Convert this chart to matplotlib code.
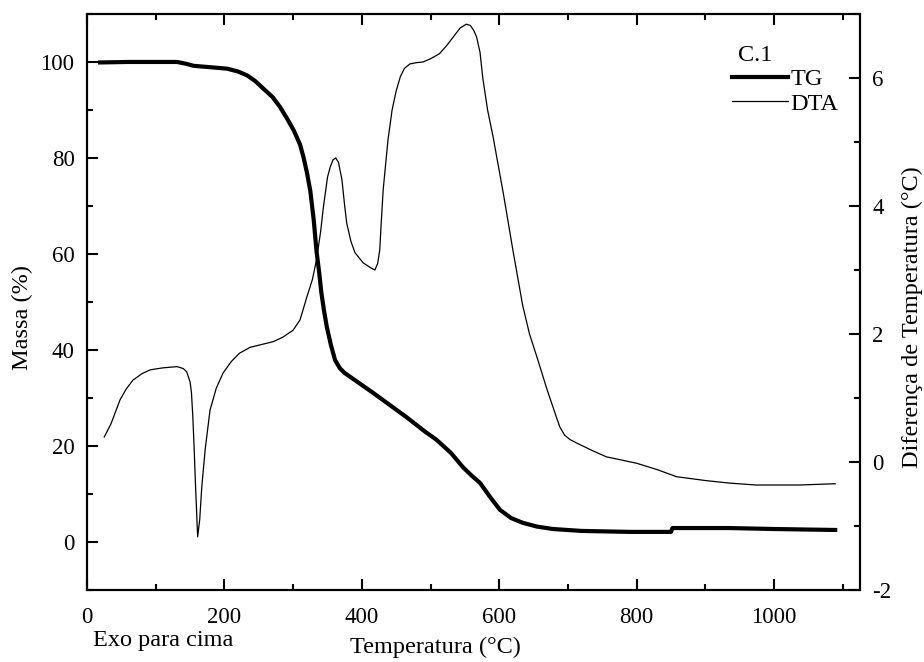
import matplotlib
matplotlib.use("Agg")
import matplotlib.pyplot as plt
from matplotlib.ticker import MultipleLocator

plt.rcParams['font.family'] = ['Liberation Serif', 'DejaVu Serif']
plt.rcParams['axes.unicode_minus'] = False

# TG curve: temperature (°C) vs mass (%)
tg_temp = [19, 60, 100, 131, 145, 155, 180, 204, 220, 233, 245, 257, 270, 281,
           292, 301, 310, 315, 320, 325, 330, 334, 338, 341, 345, 349, 355, 361,
           368, 375, 395, 417, 440, 465, 490, 509, 530, 547, 560, 572, 587, 601,
           617, 634, 655, 678, 720, 790, 850, 852, 935, 1000, 1089]
tg_mass = [99.9, 100, 100, 100, 99.6, 99.2, 98.9, 98.6, 98.0, 97.2, 96.0, 94.4,
           92.7, 90.6, 88.0, 85.7, 82.8, 80.2, 77.0, 73.1, 67.0, 60.6, 56.0, 52.0,
           48.1, 44.8, 41.0, 37.9, 36.2, 35.2, 33.2, 31.0, 28.6, 26.0, 23.2, 21.25,
           18.5, 15.6, 13.8, 12.3, 9.3, 6.7, 5.0, 4.0, 3.2, 2.7, 2.3, 2.1, 2.1,
           2.9, 2.9, 2.7, 2.5]

# DTA curve: temperature (°C) vs temperature difference (°C)
dta_temp = [25, 35, 48, 57, 67, 80, 92, 110, 131, 140, 145, 150, 152, 154, 156,
            158, 161, 164, 167, 172, 179, 188, 198, 210, 222, 237, 252, 271, 285,
            300, 310, 320, 328, 334, 340, 344, 350, 354, 358, 362, 366, 371, 375,
            378, 384, 390, 402, 412, 419, 423, 426, 428, 431, 438, 444, 450, 456,
            462, 470, 480, 489, 500, 513, 523, 533, 543, 552, 558, 563, 567, 572,
            576, 583, 591, 606, 620, 634, 644, 656, 669, 680, 688, 695, 703, 712,
            735, 756, 800, 830, 858, 900, 935, 974, 1037, 1089]
dta_diff = [0.39, 0.6, 0.97, 1.14, 1.28, 1.38, 1.44, 1.47, 1.49, 1.46, 1.41, 1.25,
            1.08, 0.7, 0.19, -0.4, -1.17, -0.9, -0.39, 0.2, 0.81, 1.15, 1.39, 1.57,
            1.70, 1.79, 1.83, 1.88, 1.95, 2.06, 2.22, 2.58, 2.85, 3.16, 3.6, 3.98,
            4.45, 4.61, 4.72, 4.75, 4.68, 4.41, 4.0, 3.73, 3.45, 3.27, 3.11, 3.04,
            3.0, 3.1, 3.31, 3.7, 4.25, 5.03, 5.5, 5.8, 6.02, 6.15, 6.22, 6.24, 6.25,
            6.3, 6.38, 6.5, 6.64, 6.78, 6.84, 6.82, 6.74, 6.64, 6.4, 6.0, 5.5, 5.08,
            4.19, 3.3, 2.45, 2.0, 1.6, 1.15, 0.8, 0.55, 0.42, 0.35, 0.30, 0.18, 0.08,
            -0.02, -0.12, -0.23, -0.29, -0.33, -0.36, -0.36, -0.34]

fs_tick = 16.5
fs_lab = 17.5
fig = plt.figure(figsize=(9.24, 6.62), dpi=100)
ax = fig.add_axes([0.0942, 0.1088, 0.8365, 0.8701])
ax2 = ax.twinx()

l1, = ax.plot(tg_temp, tg_mass, color='black', lw=3.0, label='TG')
l2, = ax2.plot(dta_temp, dta_diff, color='black', lw=0.9, label='DTA')

ax.set_xlim(0, 1125)
ax.set_ylim(-10, 110)
ax2.set_ylim(-2, 7)

ax.xaxis.set_major_locator(MultipleLocator(200))
ax.xaxis.set_minor_locator(MultipleLocator(100))
ax.yaxis.set_minor_locator(MultipleLocator(10))
ax2.yaxis.set_minor_locator(MultipleLocator(1))
ax.set_yticks([0, 20, 40, 60, 80, 100])
ax2.set_yticks([-2, 0, 2, 4, 6])

for a in (ax, ax2):
    for s in a.spines.values():
        s.set_linewidth(1.5)
ax.tick_params(axis='both', which='both', direction='in', width=1.5,
               labelsize=fs_tick, top=True, right=False)
ax.tick_params(which='major', length=8)
ax.tick_params(which='minor', length=4)
ax.tick_params(axis='x', pad=12)
ax.tick_params(axis='y', pad=9)
ax2.tick_params(axis='y', which='both', direction='in', width=1.5,
                labelsize=fs_tick, pad=9)
ax2.tick_params(which='major', length=8)
ax2.tick_params(which='minor', length=4)

fig.text(0.024, 0.521, 'Massa (%)', rotation=90, fontsize=fs_lab,
         ha='center', va='center')
fig.text(0.987, 0.521, 'Diferença de Temperatura (°C)', rotation=90,
         fontsize=fs_lab, ha='center', va='center')
fig.text(0.471, 0.022, 'Temperatura (°C)', fontsize=fs_lab, ha='center',
         va='center')
fig.text(0.101, 0.032, 'Exo para cima', fontsize=fs_lab, ha='left', va='center')

fig.text(0.7987, 0.916, 'C.1', fontsize=fs_lab, ha='left', va='center')
ax2.legend(handles=[l1, l2], loc='upper left', bbox_to_anchor=(0.792, 0.897),
           bbox_transform=fig.transFigure, frameon=False, fontsize=fs_lab,
           handlelength=2.3, handletextpad=0.12, labelspacing=0.1,
           borderpad=0, borderaxespad=0)

fig.savefig('out.png', dpi=100)
